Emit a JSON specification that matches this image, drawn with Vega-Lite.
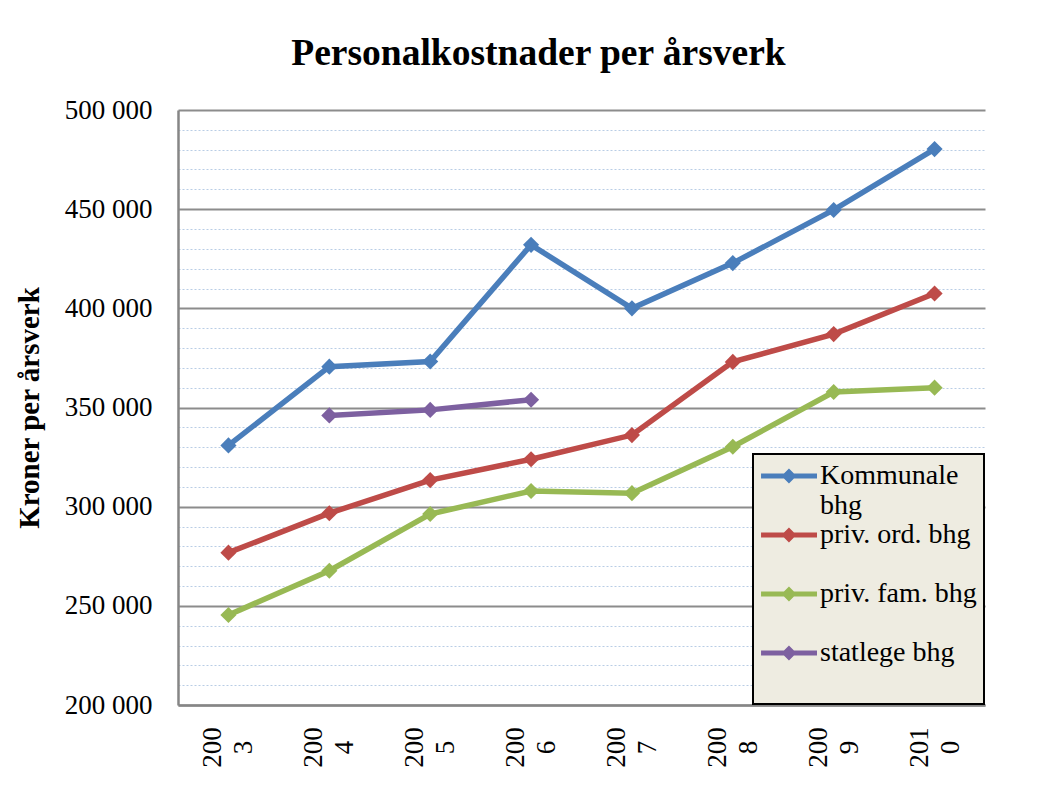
{
  "$schema": "https://vega.github.io/schema/vega-lite/v6.json",
  "autosize": {"type": "none"},
  "width": 807,
  "height": 595,
  "padding": {"left": 178, "top": 110, "right": 69, "bottom": 80},
  "background": "white",
  "config": {
    "font": "Liberation Serif",
    "view": {"stroke": null}
  },
  "title": {
    "text": "Personalkostnader per årsverk",
    "font": "Liberation Serif",
    "fontSize": 37.5,
    "fontWeight": "bold",
    "color": "black",
    "anchor": "middle",
    "baseline": "alphabetic",
    "offset": 45,
    "dx": -43,
    "dy": 51
  },
  "datasets": {
    "costs": [
      {"year": "2003", "series": "Kommunale bhg", "value": 330900},
      {"year": "2004", "series": "Kommunale bhg", "value": 370600},
      {"year": "2005", "series": "Kommunale bhg", "value": 373200},
      {"year": "2006", "series": "Kommunale bhg", "value": 432000},
      {"year": "2007", "series": "Kommunale bhg", "value": 400000},
      {"year": "2008", "series": "Kommunale bhg", "value": 422800},
      {"year": "2009", "series": "Kommunale bhg", "value": 449600},
      {"year": "2010", "series": "Kommunale bhg", "value": 480300},
      {"year": "2003", "series": "priv. ord. bhg", "value": 276800},
      {"year": "2004", "series": "priv. ord. bhg", "value": 296700},
      {"year": "2005", "series": "priv. ord. bhg", "value": 313400},
      {"year": "2006", "series": "priv. ord. bhg", "value": 323900},
      {"year": "2007", "series": "priv. ord. bhg", "value": 336100},
      {"year": "2008", "series": "priv. ord. bhg", "value": 373000},
      {"year": "2009", "series": "priv. ord. bhg", "value": 387000},
      {"year": "2010", "series": "priv. ord. bhg", "value": 407500},
      {"year": "2003", "series": "priv. fam. bhg", "value": 245400},
      {"year": "2004", "series": "priv. fam. bhg", "value": 267700},
      {"year": "2005", "series": "priv. fam. bhg", "value": 296300},
      {"year": "2006", "series": "priv. fam. bhg", "value": 307900},
      {"year": "2007", "series": "priv. fam. bhg", "value": 306800},
      {"year": "2008", "series": "priv. fam. bhg", "value": 330200},
      {"year": "2009", "series": "priv. fam. bhg", "value": 357800},
      {"year": "2010", "series": "priv. fam. bhg", "value": 360000},
      {"year": "2004", "series": "statlege bhg", "value": 346000},
      {"year": "2005", "series": "statlege bhg", "value": 348800},
      {"year": "2006", "series": "statlege bhg", "value": 353900}
    ],
    "years": [
      {"year": "2003"}, {"year": "2004"}, {"year": "2005"}, {"year": "2006"},
      {"year": "2007"}, {"year": "2008"}, {"year": "2009"}, {"year": "2010"}
    ]
  },
  "layer": [
    {
      "data": {"name": "years"},
      "mark": {"type": "rule", "color": "#b9cde5", "strokeWidth": 1, "strokeDash": [2, 2]},
      "encoding": {
        "x": {"field": "year", "type": "ordinal", "bandPosition": 0}
      }
    },
    {
      "data": {"name": "years"},
      "transform": [{"filter": "datum.year == '2010'"}],
      "mark": {"type": "rule", "color": "#b9cde5", "strokeWidth": 1, "strokeDash": [2, 2]},
      "encoding": {
        "x": {"field": "year", "type": "ordinal", "bandPosition": 1}
      }
    },
    {
      "data": {"name": "costs"},
      "mark": {"type": "line", "strokeWidth": 5.5},
      "encoding": {
        "x": {"field": "year", "type": "ordinal", "bandPosition": 0.5},
        "y": {"field": "value", "type": "quantitative"},
        "color": {"field": "series", "type": "nominal"}
      }
    },
    {
      "data": {"name": "costs"},
      "mark": {"type": "point", "shape": "diamond", "filled": true, "size": 260, "opacity": 1},
      "encoding": {
        "x": {"field": "year", "type": "ordinal", "bandPosition": 0.5},
        "y": {"field": "value", "type": "quantitative"},
        "color": {"field": "series", "type": "nominal"}
      }
    }
  ],
  "encoding": {
    "x": {
      "field": "year",
      "type": "ordinal",
      "scale": {"type": "band", "paddingInner": 0, "paddingOuter": 0},
      "axis": {
        "title": null,
        "grid": false,
        "ticks": false,
        "tickSize": 0,
        "domain": true,
        "domainColor": "#868686",
        "domainWidth": 2.5,
        "labelAngle": 270,
        "labelAlign": "center",
        "labelBaseline": "middle",
        "labelPadding": 42,
        "labelOffset": -15,
        "labelFont": "Liberation Serif",
        "labelFontSize": 27,
        "labelColor": "black",
        "labelLineHeight": 31,
        "labelExpr": "[substring(datum.label, 0, 3), substring(datum.label, 3)]"
      }
    },
    "y": {
      "field": "value",
      "type": "quantitative",
      "scale": {"domain": [200000, 500000], "nice": false, "zero": false},
      "axis": {
        "title": "Kroner per årsverk",
        "titleFont": "Liberation Serif",
        "titleFontSize": 29,
        "titleFontWeight": "bold",
        "titleColor": "black",
        "titlePadding": 20,
        "values": [200000, 210000, 220000, 230000, 240000, 250000, 260000, 270000, 280000, 290000, 300000, 310000, 320000, 330000, 340000, 350000, 360000, 370000, 380000, 390000, 400000, 410000, 420000, 430000, 440000, 450000, 460000, 470000, 480000, 490000, 500000],
        "labelExpr": "datum.value % 50000 === 0 ? replace(format(datum.value, ','), ',', ' ') : ''",
        "labelFont": "Liberation Serif",
        "labelFontSize": 27,
        "labelColor": "black",
        "labelPadding": 26,
        "ticks": false,
        "tickSize": 0,
        "domain": true,
        "domainColor": "#868686",
        "domainWidth": 2.5,
        "grid": true,
        "gridColor": {"condition": {"test": "datum.value % 50000 === 0", "value": "#8c8c8c"}, "value": "#b9cde5"},
        "gridWidth": {"condition": {"test": "datum.value % 50000 === 0", "value": 2}, "value": 1},
        "gridDash": {"condition": {"test": "datum.value % 50000 === 0", "value": []}, "value": [2, 2]}
      }
    },
    "color": {
      "field": "series",
      "type": "nominal",
      "scale": {
        "domain": ["Kommunale bhg", "priv. ord. bhg", "priv. fam. bhg", "statlege bhg"],
        "range": ["#4a7ebb", "#be4b48", "#98b954", "#7d60a0"]
      },
      "legend": {
        "title": null,
        "orient": "bottom-right",
        "offset": 1,
        "fillColor": "#eeece1",
        "strokeColor": "#000000",
        "padding": 7,
        "rowPadding": 0,
        "labelFont": "Liberation Serif",
        "labelFontSize": 28,
        "labelColor": "black",
        "labelOffset": 30,
        "labelLimit": 300,
        "symbolType": "M-0.93,-0.17L2.8,-0.17L2.8,0.17L-0.93,0.17Z M0.93,-0.5L1.43,0L0.93,0.5L0.43,0Z",
        "symbolSize": 900,
        "symbolStrokeWidth": 0,
        "labelExpr": "datum.label == 'Kommunale bhg' ? ['Kommunale', 'bhg'] : [datum.label, ' ']",
        "encode": {
          "legend": {"update": {"strokeWidth": {"value": 2}}},
          "labels": {"update": {"lineHeight": {"value": 30}}},
          "symbols": {"update": {"fill": {"scale": "color", "field": "value"}, "fillOpacity": {"value": 1}, "opacity": {"value": 1}}}
        }
      }
    }
  }
}
